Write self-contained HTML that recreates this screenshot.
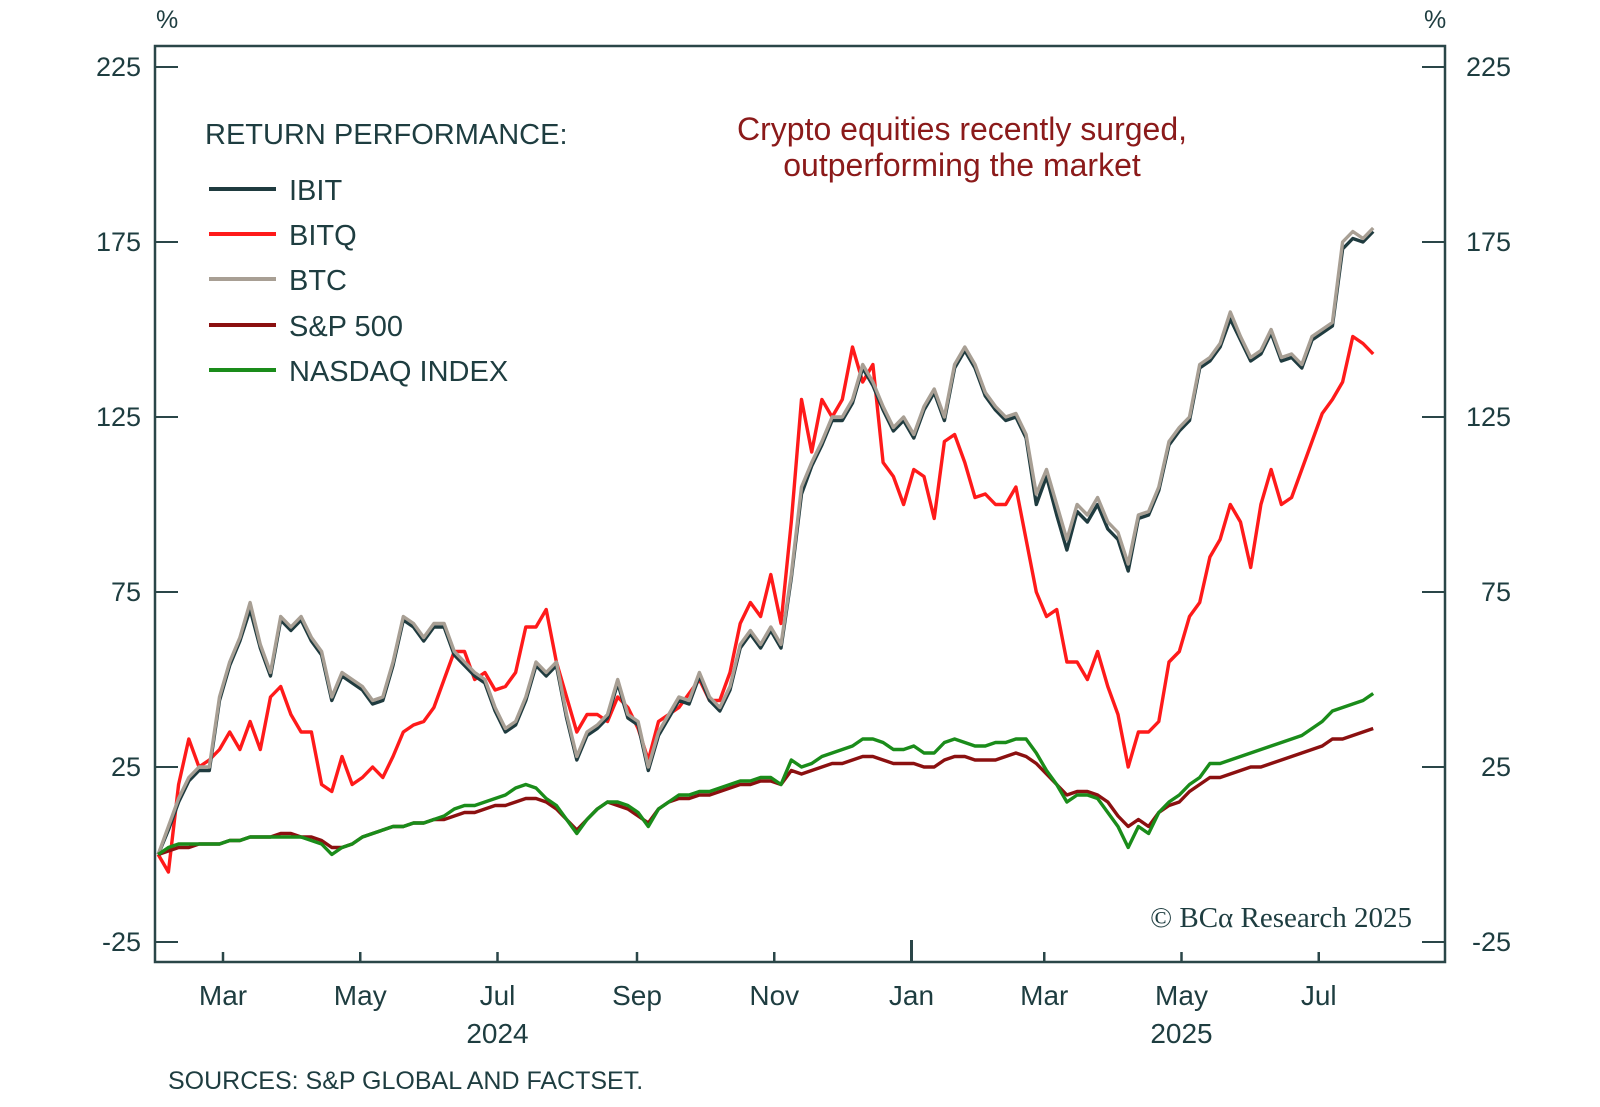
<!DOCTYPE html>
<html><head><meta charset="utf-8">
<style>
html,body{margin:0;padding:0;background:#fff;}
svg{display:block;font-family:"Liberation Sans",sans-serif;}
</style></head>
<body>
<svg id="chart" width="1600" height="1107" viewBox="0 0 1600 1107" xmlns="http://www.w3.org/2000/svg">
<rect x="0" y="0" width="1600" height="1107" fill="#fff"/>
<rect x="155" y="46" width="1290" height="916" fill="none" stroke="#2a4648" stroke-width="2.5"/>
<text x="156" y="28" font-size="25" fill="#1e3d40">%</text>
<text x="1424" y="28" font-size="25" fill="#1e3d40">%</text>
<g id="yaxes"></g>
<g id="xaxis"></g>
<g id="series"></g>
<text x="205" y="144" font-size="29" fill="#1e3d40">RETURN PERFORMANCE:</text>
<g>
 <g><line x1="209" y1="189" x2="276" y2="189" stroke="#1f3b3f" stroke-width="4"/><text x="289" y="200" font-size="29" fill="#1e3d40">IBIT</text></g>
 <g><line x1="209" y1="234" x2="276" y2="234" stroke="#ff1a1a" stroke-width="4"/><text x="289" y="245" font-size="29" fill="#1e3d40">BITQ</text></g>
 <g><line x1="209" y1="279" x2="276" y2="279" stroke="#a89f94" stroke-width="4"/><text x="289" y="290" font-size="29" fill="#1e3d40">BTC</text></g>
 <g><line x1="209" y1="325" x2="276" y2="325" stroke="#8b1010" stroke-width="4"/><text x="289" y="336" font-size="29" fill="#1e3d40">S&amp;P 500</text></g>
 <g><line x1="209" y1="370" x2="276" y2="370" stroke="#1a8c1a" stroke-width="4"/><text x="289" y="381" font-size="29" fill="#1e3d40">NASDAQ INDEX</text></g>
</g>
<text x="962" y="140" font-size="32" fill="#8b1a1a" text-anchor="middle">Crypto equities recently surged,</text>
<text x="962" y="176" font-size="32" fill="#8b1a1a" text-anchor="middle">outperforming the market</text>
<text x="1412" y="927" font-size="29" fill="#1e3d40" text-anchor="end" font-family="Liberation Serif, serif">© BCα Research 2025</text>
<text x="168" y="1089" font-size="25" fill="#1e3d40">SOURCES: S&amp;P GLOBAL AND FACTSET.</text>
</svg>
<script>
// Data: values sampled every ~4.54 days starting ~2024-02-01
const startDay = -28.8;   // days relative to 2024-03-01
const stepDays = 4.538;
const yTicks = [-25, 25, 75, 125, 175, 225];
const monthLabels = ["Mar","May","Jul","Sep","Nov","Jan","Mar","May","Jul"];
const monthDays = [0,61,122,184,245,306,365,426,487];
const yearLabels = ["2024","2025"];
const yearDays = [122,426];
const btc = [0,8,16,22,25,25,45,55,62,72,60,52,68,65,68,62,58,45,52,50,48,44,45,55,68,66,62,66,66,58,55,52,50,42,36,38,45,55,52,55,40,28,35,37,40,50,40,38,25,35,40,45,44,52,45,42,48,60,64,60,65,60,80,105,112,118,125,125,130,140,135,128,122,125,120,128,133,125,140,145,140,132,128,125,126,120,103,110,100,90,100,97,102,95,92,83,97,98,105,118,122,125,140,142,146,155,148,142,144,150,142,143,140,148,150,152,175,178,176,179];
const ibit = [0,7,15,21,24,24,44,54,61,70,59,51,67,64,67,61,57,44,51,49,47,43,44,54,67,65,61,65,65,57,54,51,49,41,35,37,44,54,51,54,39,27,34,36,39,49,39,37,24,34,39,44,43,51,44,41,47,59,63,59,64,59,79,103,111,117,124,124,129,139,134,127,121,124,119,127,132,124,139,144,139,131,127,124,125,119,100,108,97,87,98,95,100,93,90,81,96,97,104,117,121,124,139,141,145,153,147,141,143,149,141,142,139,147,149,151,173,176,175,178];
const bitq = [0,-5,20,33,25,27,30,35,30,38,30,45,48,40,35,35,20,18,28,20,22,25,22,28,35,37,38,42,50,58,58,50,52,47,48,52,65,65,70,55,45,35,40,40,38,45,42,36,27,38,40,42,46,50,44,44,52,66,72,68,80,66,95,130,115,130,125,130,145,135,140,112,108,100,110,108,96,118,120,112,102,103,100,100,105,90,75,68,70,55,55,50,58,48,40,25,35,35,38,55,58,68,72,85,90,100,95,82,100,110,100,102,110,118,126,130,135,148,146,143];
const spx = [0,1,2,2,3,3,3,4,4,5,5,5,6,6,5,5,4,2,2,3,5,6,7,8,8,9,9,10,10,11,12,12,13,14,14,15,16,16,15,13,10,7,10,13,15,14,13,11,9,13,15,16,16,17,17,18,19,20,20,21,21,20,24,23,24,25,26,26,27,28,28,27,26,26,26,25,25,27,28,28,27,27,27,28,29,28,26,23,20,17,18,18,17,15,11,8,10,8,12,14,15,18,20,22,22,23,24,25,25,26,27,28,29,30,31,33,33,34,35,36];
const ndq = [0,2,3,3,3,3,3,4,4,5,5,5,5,5,5,4,3,0,2,3,5,6,7,8,8,9,9,10,11,13,14,14,15,16,17,19,20,19,16,14,10,6,10,13,15,15,14,12,8,13,15,17,17,18,18,19,20,21,21,22,22,20,27,25,26,28,29,30,31,33,33,32,30,30,31,29,29,32,33,32,31,31,32,32,33,33,29,24,20,15,17,17,16,12,8,2,8,6,12,15,17,20,22,26,26,27,28,29,30,31,32,33,34,36,38,41,42,43,44,46];

const NS = "http://www.w3.org/2000/svg";
function xScale(day){ return 223 + day * 2.25; }
function yScale(v){ return 67 + (225 - v) * 3.5; }
function dayAt(i){ return startDay + i * stepDays; }

const ya = document.getElementById('yaxes');
yTicks.forEach(function(t){
  const y = yScale(t);
  const l1 = document.createElementNS(NS,'line');
  
  
  l1.setAttribute('x1',155); l1.setAttribute('x2',178); l1.setAttribute('y1',y); l1.setAttribute('y2',y);
  l1.setAttribute('stroke','#2a4648'); l1.setAttribute('stroke-width','2');
  ya.appendChild(l1);
  const l2 = document.createElementNS(NS,'line');
  
  
  l2.setAttribute('x1',1422); l2.setAttribute('x2',1445); l2.setAttribute('y1',y); l2.setAttribute('y2',y);
  l2.setAttribute('stroke','#2a4648'); l2.setAttribute('stroke-width','2');
  ya.appendChild(l2);
  const t1 = document.createElementNS(NS,'text');
  
  
  t1.setAttribute('x',141); t1.setAttribute('y',y+9); t1.setAttribute('text-anchor','end');
  t1.setAttribute('font-size','27'); t1.setAttribute('fill','#1e3d40');
  t1.textContent = t; ya.appendChild(t1);
  const t2 = document.createElementNS(NS,'text');
  
  
  t2.setAttribute('x',1511); t2.setAttribute('y',y+9); t2.setAttribute('text-anchor','end');
  t2.setAttribute('font-size','27'); t2.setAttribute('fill','#1e3d40');
  t2.textContent = t; ya.appendChild(t2);
});

const xa = document.getElementById('xaxis');
monthLabels.forEach(function(m,i){
  const x = xScale(monthDays[i]);
  const tk = document.createElementNS(NS,'line');
  
  
  tk.setAttribute('x1',x); tk.setAttribute('x2',x); tk.setAttribute('y1',952); tk.setAttribute('y2',962);
  tk.setAttribute('stroke','#2a4648'); tk.setAttribute('stroke-width', m==='Jan' ? '3' : '2.5');
  if(m==='Jan'){ tk.setAttribute('y1',940); }
  xa.appendChild(tk);
  const tx = document.createElementNS(NS,'text');
  
  
  tx.setAttribute('x',x); tx.setAttribute('y',1005); tx.setAttribute('text-anchor','middle');
  tx.setAttribute('font-size','28'); tx.setAttribute('fill','#1e3d40');
  tx.textContent = m; xa.appendChild(tx);
});
yearLabels.forEach(function(yl,i){
  const tx = document.createElementNS(NS,'text');
  
  
  tx.setAttribute('x',xScale(yearDays[i])); tx.setAttribute('y',1043); tx.setAttribute('text-anchor','middle');
  tx.setAttribute('font-size','28'); tx.setAttribute('fill','#1e3d40');
  tx.textContent = yl; xa.appendChild(tx);
});

const sg = document.getElementById('series');
function drawLine(vals, color, name){
  const pts = vals.map(function(v,i){ return xScale(dayAt(i)).toFixed(1)+','+yScale(v).toFixed(1); }).join(' ');
  const pl = document.createElementNS(NS,'polyline');
  
  
  pl.setAttribute('points',pts); pl.setAttribute('fill','none');
  pl.setAttribute('stroke',color); pl.setAttribute('stroke-width','3.4');
  pl.setAttribute('stroke-linejoin','round');
  sg.appendChild(pl);
}
drawLine(bitq,'#ff1a1a','bitq-line');
drawLine(ibit,'#1f3b3f','ibit-line');
drawLine(btc,'#a89f94','btc-line');
drawLine(spx,'#8b1010','sp500-line');
drawLine(ndq,'#1a8c1a','nasdaq-line');
</script>
</body></html>
